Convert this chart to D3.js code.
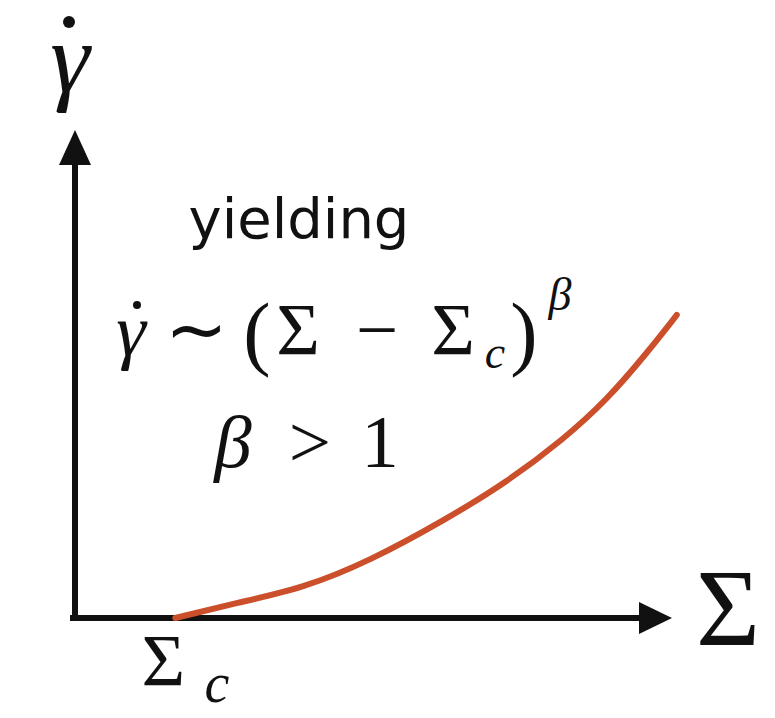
<!DOCTYPE html>
<html>
<head>
<meta charset="utf-8">
<script src="https://cdn.jsdelivr.net/npm/d3@7"></script>
</head>
<body style="margin:0">
<svg width="775" height="718" font-family="Liberation Serif"></svg>
<script>
// curve (stress Sigma vs shear rate, arbitrary units 0..10)
var sigmaVals = [1.68, 2.71, 3.82, 4.94, 6.20, 7.24, 8.17, 8.91, 9.58, 10.08];
var rateVals  = [0.0, 0.31, 0.61, 1.17, 2.01, 2.79, 3.65, 4.47, 5.43, 6.21];
var sigmaC = 1.68;

var svg = d3.select("svg"),
	x = d3.scaleLinear().domain([0, 10]).range([75, 672]),
	y = d3.scaleLinear().domain([0, 10]).range([618, 130]),
	ink = "#111",
	red = "#cc4f2c";

var pts = sigmaVals.map(function(s, i){ return [s, rateVals[i]]; });

// axes
svg.append("line")
	.attr("x1", x(0) - 5).attr("x2", x(10) - 28)
	.attr("y1", y(0)).attr("y2", y(0))
	.attr("stroke", ink).attr("stroke-width", 6);

svg.append("line")
	.attr("x1", x(0)).attr("x2", x(0))
	.attr("y1", y(0) + 3).attr("y2", y(10) + 30)
	.attr("stroke", ink).attr("stroke-width", 6);

svg.append("path")
	.attr("d", "M" + x(10) + "," + y(0) + "L" + (x(10) - 33) + "," + (y(0) - 16) + "L" + (x(10) - 33) + "," + (y(0) + 16) + "Z")
	.attr("fill", ink);

svg.append("path")
	.attr("d", "M" + x(0) + "," + y(10) + "L" + (x(0) - 16) + "," + (y(10) + 35) + "L" + (x(0) + 16) + "," + (y(10) + 35) + "Z")
	.attr("fill", ink);

// the flow curve
svg.append("path")
	.datum(pts)
	.attr("fill", "none")
	.attr("stroke", red)
	.attr("stroke-width", 6)
	.attr("stroke-linecap", "round")
	.attr("d", d3.line()
		.x(function(d){ return x(d[0]); })
		.y(function(d){ return y(d[1]); })
		.curve(d3.curveBasis));

// labels
function txt(s, cx, by, size, italic) {
	return svg.append("text")
		.attr("x", cx).attr("y", by)
		.attr("font-family", "Liberation Serif")
		.attr("font-size", size)
		.attr("font-style", italic ? "italic" : null)
		.attr("text-anchor", "middle")
		.attr("fill", ink)
		.text(s);
}

// y axis label: gamma dot
txt("γ", 70, 92, 100, true);
svg.append("circle").attr("cx", 69).attr("cy", 22).attr("r", 6).attr("fill", ink);

// x axis label
txt("Σ", 728, 645, 110, false);

// Sigma_c under the axis
txt("Σ", x(sigmaC) - 12, 686, 75, false);
txt("c", 217, 702, 56, true);

// yielding
svg.append("text")
	.attr("x", 299).attr("y", 238)
	.attr("font-family", "DejaVu Sans")
	.attr("font-size", 56)
	.attr("text-anchor", "middle")
	.attr("fill", ink)
	.text("yielding");

// formula line 1
txt("γ", 131, 355, 75, true);
svg.append("circle").attr("cx", 137).attr("cy", 305).attr("r", 4).attr("fill", ink);
txt("∼", 196, 355, 75, false);
txt("(", 257, 360, 82, false);
txt("Σ", 298, 355, 75, false);
txt("−", 377, 355, 75, false);
txt("Σ", 453, 355, 75, false);
txt("c", 495, 368, 46, true);
txt(")", 524, 360, 82, false);
txt("β", 560, 310, 46, true);

// formula line 2
txt("β", 233, 467, 75, true);
txt(">", 310, 467, 75, false);
txt("1", 380, 467, 75, false);
</script>
</body>
</html>
